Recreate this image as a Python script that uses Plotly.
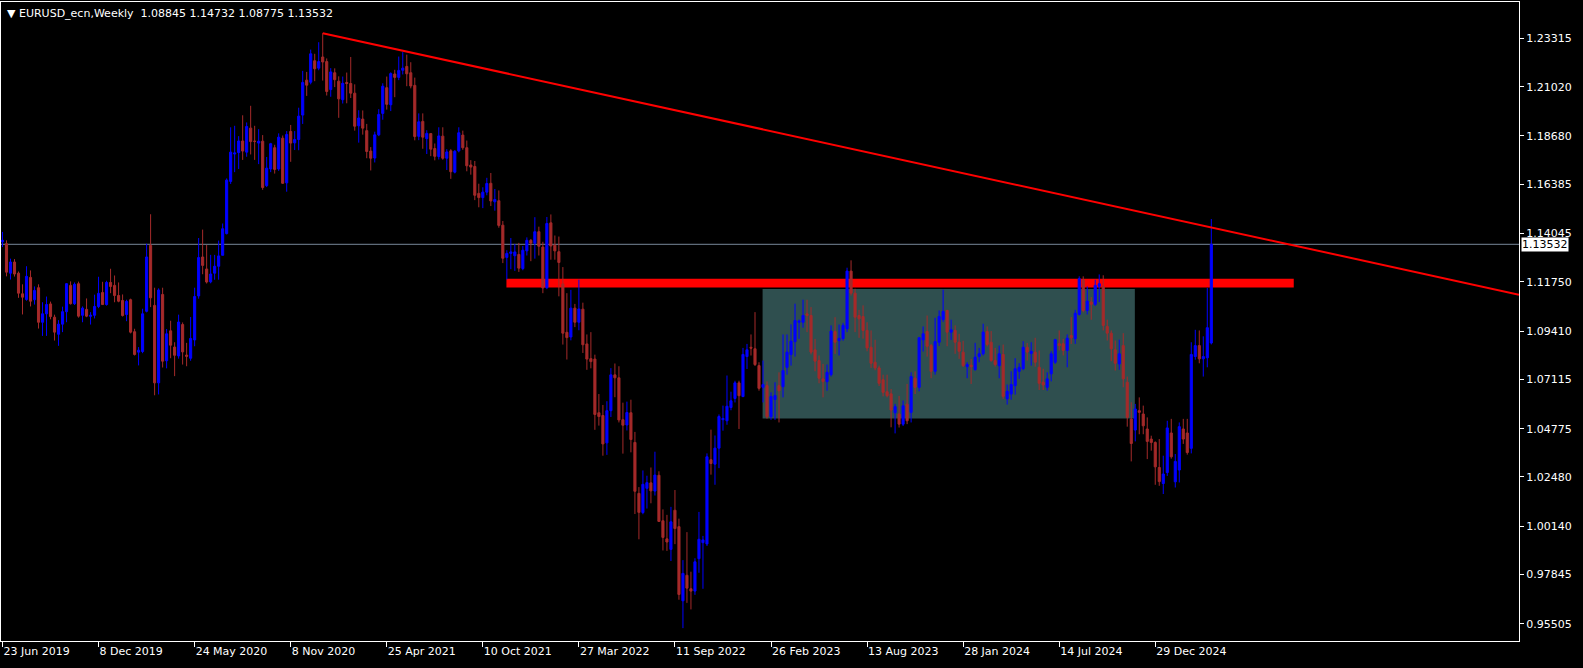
import plotly.graph_objects as go

# Weekly EURUSD candles, starting with the week of 23 Jun 2019 (one bar per week)
opens = [1.1365,1.1356,1.1216,1.1269,1.1216,1.1118,1.1091,1.1196,1.1090,1.1147,
         1.0983,1.1023,1.1070,1.1007,1.0926,1.0974,1.1033,1.1158,1.1071,1.1166,
         1.1016,1.1044,1.1011,1.1016,1.1058,1.1124,1.1067,1.1172,1.1158,1.1110,
         1.1086,1.1020,1.1090,1.0938,1.0841,1.0844,1.1035,1.1348,1.1063,1.0695,
         1.1115,1.0800,1.0942,1.0865,1.0823,1.0972,1.0827,1.0812,1.0899,1.1108,
         1.1293,1.1236,1.1175,1.1216,1.1249,1.1301,1.1404,1.1652,1.1782,1.1789,
         1.1844,1.1791,1.1905,1.1843,1.1834,1.1843,1.1632,1.1711,1.1812,1.1711,
         1.1857,1.1645,1.1889,1.1835,1.1851,1.1967,1.2133,1.2123,1.2225,1.2190,
         1.2243,1.2221,1.2088,1.2168,1.2128,1.2040,1.2122,1.2117,1.2071,1.1916,
         1.1948,1.1893,1.1796,1.1763,1.1873,1.1975,1.2097,1.2016,1.2162,1.2146,
         1.2180,1.2198,1.2168,1.2108,1.1866,1.1937,1.1855,1.1879,1.1808,1.1770,
         1.1867,1.1762,1.1797,1.1696,1.1797,1.1872,1.1812,1.1730,1.1723,1.1595,
         1.1575,1.1601,1.1643,1.1555,1.1560,1.1444,1.1291,1.1310,1.1299,1.1305,
         1.1238,1.1322,1.1372,1.1358,1.1413,1.1340,1.1147,1.1455,1.1349,1.1318,
         1.1165,1.0935,1.0913,1.1050,1.0983,1.1045,1.0880,1.0810,1.0808,1.0553,
         1.0540,1.0410,1.0563,1.0733,1.0719,1.0520,1.0495,1.0553,1.0412,1.0170,
         1.0079,1.0194,1.0220,1.0181,1.0256,1.0040,0.9954,0.9904,1.0090,1.0012,
         0.9660,0.9781,0.9717,0.9706,0.9860,0.9936,0.9930,1.0330,1.0309,1.0385,
         1.0520,1.0515,1.0578,1.0621,1.0695,1.0630,1.0820,1.0864,1.0857,1.0777,
         1.0674,1.0682,1.0534,1.0616,1.0682,1.0677,1.0769,1.0830,1.0891,1.0983,
         1.0983,1.1023,1.1015,1.0852,1.0801,1.0714,1.0701,1.0734,1.0939,1.0896,
         1.0905,1.0952,1.1226,1.1121,1.1015,1.1010,1.0944,1.0864,1.0793,1.0766,
         1.0710,1.0653,1.0643,1.0553,1.0547,1.0499,1.0594,1.0555,1.0717,1.0674,
         1.0899,1.0939,1.0872,1.0750,1.0888,1.0996,1.1039,1.0936,1.0944,1.0888,
         1.0841,1.0772,1.0779,1.0758,1.0820,1.0833,1.0939,1.0888,1.0801,1.0777,
         1.0830,1.0619,1.0642,1.0682,1.0750,1.0762,1.0864,1.0835,1.0841,1.0769,
         1.0698,1.0674,1.0738,1.0793,1.0881,1.0881,1.0849,1.0920,1.0904,1.1020,
         1.1185,1.1039,1.1079,1.1068,1.1153,1.1153,1.0963,1.0931,1.0852,1.0785,
         1.0872,1.0698,1.0523,1.0471,1.0563,1.0547,1.0476,1.0428,1.0412,1.0293,
         1.0217,1.0269,1.0457,1.0225,1.0281,1.0476,1.0457,1.0384,1.0820,1.0872,
         1.0809,1.0814,1.08845]
highs = [1.1412,1.1372,1.1285,1.1283,1.1224,1.1163,1.1249,1.1229,1.1153,1.1163,
         1.1078,1.1105,1.1081,1.1019,1.0993,1.1057,1.1169,1.1177,1.1172,1.1176,
         1.1058,1.1096,1.1031,1.1114,1.1199,1.1175,1.1180,1.1237,1.1205,1.1172,
         1.1115,1.1090,1.1095,1.0952,1.0865,1.1047,1.1356,1.1496,1.1147,1.1144,
         1.1147,1.0951,1.0990,1.0888,1.1019,1.0982,1.0885,1.1008,1.1147,1.1383,
         1.1423,1.1350,1.1303,1.1303,1.1371,1.1452,1.1666,1.1909,1.1916,1.1867,
         1.1966,1.1932,1.2011,1.1916,1.1900,1.1872,1.1768,1.1835,1.1826,1.1880,
         1.1870,1.1891,1.1920,1.1891,1.2002,1.2177,1.2172,1.2278,1.2258,1.2313,
         1.2356,1.2236,1.2190,1.2189,1.2151,1.2150,1.2169,1.2243,1.2113,1.1990,
         1.1989,1.1925,1.1815,1.1888,1.1995,1.2118,1.2150,1.2170,1.2182,1.2245,
         1.2266,1.2254,1.2218,1.2145,1.1975,1.1975,1.1895,1.1880,1.1832,1.1909,
         1.1909,1.1805,1.1805,1.1801,1.1909,1.1893,1.1846,1.1753,1.1749,1.1641,
         1.1624,1.1669,1.1692,1.1616,1.1609,1.1464,1.1325,1.1383,1.1355,1.1360,
         1.1345,1.1386,1.1378,1.1482,1.1437,1.1365,1.1483,1.1495,1.1395,1.1390,
         1.1245,1.1121,1.1137,1.1070,1.1185,1.1076,1.0925,1.0936,1.0829,1.0642,
         1.0590,1.0608,1.0765,1.0787,1.0774,1.0601,1.0606,1.0615,1.0462,1.0200,
         1.0279,1.0254,1.0293,1.0368,1.0275,1.0094,1.0068,1.0106,1.0186,1.0050,
         0.9853,0.9986,0.9798,0.9862,1.0082,0.9968,1.0360,1.0473,1.0445,1.0545,
         1.0587,1.0730,1.0653,1.0705,1.0705,1.0861,1.0880,1.0925,1.1031,1.0793,
         1.0801,1.0702,1.0650,1.0698,1.0745,1.0925,1.0925,1.0973,1.1071,1.0996,
         1.1090,1.1090,1.1055,1.0904,1.0825,1.0785,1.0782,1.0968,1.1007,1.0972,
         1.0980,1.1242,1.1277,1.1142,1.1042,1.1063,1.0983,1.0944,1.0900,1.0777,
         1.0734,1.0734,1.0666,1.0595,1.0633,1.0611,1.0690,1.0745,1.0750,1.0913,
         1.0963,1.1015,1.0880,1.1004,1.1039,1.1138,1.1042,1.0995,1.0968,1.0928,
         1.0895,1.0793,1.0809,1.0885,1.0861,1.0976,1.0963,1.0941,1.0861,1.0872,
         1.0877,1.0687,1.0750,1.0812,1.0788,1.0893,1.0884,1.0888,1.0909,1.0849,
         1.0762,1.0745,1.0845,1.0904,1.0944,1.0904,1.0925,1.1007,1.1042,1.1201,
         1.1201,1.1153,1.1102,1.1185,1.1210,1.1206,1.0995,1.0944,1.0896,1.0900,
         1.0931,1.0725,1.0603,1.0595,1.0626,1.0587,1.0531,1.0444,1.0417,1.0428,
         1.0349,1.0515,1.0524,1.0357,1.0507,1.0524,1.0524,1.0888,1.0947,1.0944,
         1.0916,1.1146,1.14732]
lows = [1.1340,1.1201,1.1186,1.1200,1.1099,1.1020,1.1085,1.1058,1.1067,1.0953,
        1.0918,1.0918,1.0997,1.0896,1.0871,1.0936,1.0983,1.1067,1.1065,1.1005,
        1.0983,1.1007,1.0972,1.1001,1.1050,1.1065,1.1062,1.1121,1.1078,1.1078,
        1.1010,1.0988,1.0930,1.0825,1.0778,1.0836,1.1030,1.1055,1.0636,1.0640,
        1.0768,1.0764,1.0812,1.0727,1.0810,1.0782,1.0774,1.0800,1.0869,1.1095,
        1.1211,1.1167,1.1168,1.1185,1.1185,1.1300,1.1400,1.1640,1.1696,1.1711,
        1.1754,1.1769,1.1780,1.1754,1.1734,1.1612,1.1625,1.1696,1.1689,1.1702,
        1.1640,1.1603,1.1745,1.1801,1.1800,1.1925,1.2058,1.2113,1.2128,1.2180,
        1.2131,1.2060,1.2054,1.2100,1.1954,1.2022,1.2023,1.2048,1.1893,1.1836,
        1.1874,1.1762,1.1704,1.1742,1.1867,1.1945,1.1993,1.1986,1.2052,1.2133,
        1.2160,1.2104,1.2094,1.1847,1.1848,1.1807,1.1782,1.1772,1.1752,1.1756,
        1.1755,1.1706,1.1664,1.1690,1.1790,1.1802,1.1700,1.1684,1.1563,1.1529,
        1.1525,1.1586,1.1535,1.1513,1.1432,1.1264,1.1186,1.1235,1.1227,1.1222,
        1.1230,1.1300,1.1273,1.1285,1.1300,1.1121,1.1140,1.1280,1.1280,1.1106,
        1.0877,1.0806,1.0897,1.0960,1.0945,1.0837,1.0757,1.0764,1.0472,1.0492,
        1.0349,1.0353,1.0533,1.0627,1.0507,1.0359,1.0469,1.0365,1.0072,0.9952,
        1.0071,1.0098,1.0123,1.0160,1.0034,0.9899,0.9897,0.9849,0.9929,0.9665,
        0.9530,0.9650,0.9619,0.9688,0.9793,0.9717,0.9920,1.0259,1.0211,1.0290,
        1.0468,1.0496,1.0565,1.0602,1.0476,1.0627,1.0761,1.0825,1.0775,1.0658,
        1.0602,1.0525,1.0519,1.0519,1.0507,1.0626,1.0734,1.0777,1.0820,1.0904,
        1.0957,1.0936,1.0830,1.0750,1.0693,1.0626,1.0658,1.0725,1.0833,1.0825,
        1.0895,1.0936,1.1110,1.0936,1.0909,1.0905,1.0845,1.0766,1.0755,1.0680,
        1.0631,1.0626,1.0484,1.0455,1.0483,1.0490,1.0499,1.0507,1.0642,1.0655,
        1.0844,1.0820,1.0717,1.0734,1.0870,1.0985,1.0869,1.0899,1.0833,1.0809,
        1.0770,1.0717,1.0690,1.0753,1.0793,1.0825,1.0868,1.0795,1.0772,1.0717,
        1.0619,1.0592,1.0615,1.0639,1.0714,1.0755,1.0801,1.0777,1.0772,1.0661,
        1.0661,1.0658,1.0702,1.0785,1.0849,1.0825,1.0769,1.0880,1.0880,1.1015,
        1.1030,1.1020,1.0995,1.1060,1.1079,1.0944,1.0896,1.0798,1.0753,1.0757,
        1.0674,1.0487,1.0322,1.0417,1.0451,1.0451,1.0333,1.0373,1.0211,1.0206,
        1.0167,1.0253,1.0335,1.0198,1.0222,1.0405,1.0354,1.0360,1.0805,1.0788,
        1.0725,1.0769,1.08775]
closes = [1.1372,1.1221,1.1269,1.1212,1.1121,1.1102,1.1201,1.1083,1.1134,1.0983,
          1.1023,1.1067,1.1010,1.0936,1.0974,1.1033,1.1166,1.1071,1.1163,1.1012,
          1.1050,1.1012,1.1016,1.1058,1.1120,1.1067,1.1172,1.1153,1.1110,1.1083,
          1.1015,1.1082,1.0936,1.0830,1.0850,1.1023,1.1293,1.1099,1.0695,1.1136,
          1.0798,1.0928,1.0874,1.0826,1.0984,1.0842,1.0821,1.0906,1.1105,1.1290,
          1.1253,1.1174,1.1212,1.1249,1.1298,1.1427,1.1658,1.1791,1.1787,1.1844,
          1.1796,1.1913,1.1841,1.1842,1.1843,1.1623,1.1715,1.1831,1.1709,1.1862,
          1.1643,1.1875,1.1834,1.1851,1.1962,1.2122,1.2109,1.2258,1.2187,1.2221,
          1.2219,1.2079,1.2172,1.2135,1.2044,1.2118,1.2117,1.2071,1.1914,1.1953,
          1.1905,1.1794,1.1762,1.1873,1.1970,1.2104,1.2018,1.2164,1.2146,1.2179,
          1.2190,1.2163,1.2105,1.1865,1.1935,1.1862,1.1880,1.1805,1.1771,1.1868,
          1.1762,1.1792,1.1698,1.1795,1.1883,1.1812,1.1726,1.1720,1.1586,1.1575,
          1.1601,1.1642,1.1559,1.1566,1.1443,1.1287,1.1310,1.1317,1.1317,1.1240,
          1.1325,1.1372,1.1359,1.1413,1.1344,1.1146,1.1452,1.1345,1.1322,1.1267,
          1.0931,1.0910,1.1050,1.0983,1.1046,1.0876,1.0808,1.0796,1.0545,1.0535,
          1.0405,1.0563,1.0733,1.0719,1.0519,1.0494,1.0554,1.0426,1.0180,1.0080,
          1.0213,1.0221,1.0182,1.0257,1.0037,0.9961,0.9939,1.0035,1.0003,0.9690,
          0.9790,0.9720,0.9706,0.9845,0.9952,0.9949,1.0344,1.0312,1.0385,1.0535,
          1.0526,1.0584,1.0610,1.0695,1.0634,1.0830,1.0852,1.0860,1.0782,1.0669,
          1.0687,1.0534,1.0630,1.0635,1.0658,1.0753,1.0841,1.0893,1.0991,1.0988,
          1.1015,1.1015,1.0841,1.0798,1.0717,1.0701,1.0745,1.0941,1.0888,1.0906,
          1.0968,1.1226,1.1121,1.1007,1.0999,1.0944,1.0861,1.0788,1.0766,1.0693,
          1.0650,1.0634,1.0566,1.0582,1.0499,1.0586,1.0515,1.0725,1.0674,1.0909,
          1.0928,1.0869,1.0750,1.0891,1.1010,1.1034,1.0936,1.0947,1.0888,1.0845,
          1.0777,1.0782,1.0772,1.0817,1.0833,1.0936,1.0877,1.0801,1.0782,1.0833,
          1.0631,1.0655,1.0687,1.0762,1.0769,1.0864,1.0841,1.0845,1.0793,1.0693,
          1.0685,1.0714,1.0833,1.0900,1.0872,1.0849,1.0907,1.0909,1.1026,1.1190,
          1.1039,1.1083,1.1068,1.1158,1.1166,1.0968,1.0931,1.0857,1.0788,1.0833,
          1.0714,1.0531,1.0407,1.0571,1.0555,1.0491,1.0417,1.0412,1.0296,1.0226,
          1.0262,1.0481,1.0344,1.0322,1.0487,1.0428,1.0364,1.0830,1.0872,1.0809,
          1.0820,1.0957,1.13532]

# Date axis labels, one every 24 weekly bars starting at bar 0
date_labels = ["23 Jun 2019", "8 Dec 2019", "24 May 2020", "8 Nov 2020", "25 Apr 2021",
               "10 Oct 2021", "27 Mar 2022", "11 Sep 2022", "26 Feb 2023", "13 Aug 2023",
               "28 Jan 2024", "14 Jul 2024", "29 Dec 2024"]
date_label_bars = [0, 24, 48, 72, 96, 120, 144, 168, 192, 216, 240, 264, 288]

price_ticks = [1.23315, 1.21020, 1.18680, 1.16385, 1.14045, 1.11750, 1.09410,
               1.07115, 1.04775, 1.02480, 1.00140, 0.97845, 0.95505]

# Drawn objects (price levels / bar positions)
trend_start = (80, 1.2356)
trend_end = (378.875, 1.1114)
resistance = (125.9, 322.6, 1.11484, 1.11897)   # x0, x1, y0, y1
range_box = (189.9, 282.9, 1.05261, 1.11413)
last_price = 1.13532
title_text = "\u25BC EURUSD_ecn,Weekly\u00a0\u00a01.08845 1.14732 1.08775 1.13532"

bars = list(range(len(closes)))

fig = go.Figure()
fig.add_trace(go.Candlestick(
    x=bars, open=opens, high=highs, low=lows, close=closes,
    increasing=dict(line=dict(color="#0000FF", width=1), fillcolor="#0000FF"),
    decreasing=dict(line=dict(color="#A52A2A", width=1), fillcolor="#A52A2A"),
    whiskerwidth=0, hoverinfo="skip", showlegend=False,
))

shapes = [
    dict(type="rect", xref="x", yref="y", x0=range_box[0], x1=range_box[1],
         y0=range_box[2], y1=range_box[3], fillcolor="#2F4F4F", line=dict(width=0), layer="below"),
    dict(type="rect", xref="x", yref="y", x0=resistance[0], x1=resistance[1],
         y0=resistance[2], y1=resistance[3], fillcolor="#FF0000", line=dict(width=0), layer="below"),
    dict(type="line", xref="paper", yref="y", x0=0, x1=1, y0=last_price, y1=last_price,
         line=dict(color="#778899", width=1), layer="below"),
    dict(type="line", xref="x", yref="y", x0=trend_start[0], y0=trend_start[1],
         x1=trend_end[0], y1=trend_end[1], line=dict(color="#FF0000", width=2), layer="above"),
]

font = "DejaVu Sans"
annotations = [
    dict(xref="paper", yref="paper", x=0, y=1, xanchor="left", yanchor="top",
         xshift=4, yshift=-3, text=title_text, showarrow=False,
         font=dict(family=font, size=11, color="#FFFFFF")),
    dict(xref="paper", yref="y", x=1, y=last_price, xanchor="left", yanchor="middle",
         xshift=2, text="1.13532", showarrow=False, bgcolor="#FFFFFF",
         borderpad=0, font=dict(family=font, size=11, color="#000000")),
]

fig.update_layout(
    width=1583, height=668,
    margin=dict(l=1, r=64, t=2, b=27),
    paper_bgcolor="#000000", plot_bgcolor="#000000",
    boxgap=0.25,
    shapes=shapes, annotations=annotations,
    font=dict(family=font, size=11, color="#FFFFFF"),
    xaxis=dict(
        range=[-0.375, 378.875], rangeslider=dict(visible=False),
        tickmode="array", tickvals=date_label_bars, ticktext=date_labels,
        ticks="outside", ticklen=5, tickcolor="#FFFFFF",
        ticklabelposition="outside right",
        showgrid=False, zeroline=False, showline=True, linecolor="#FFFFFF",
        linewidth=1, mirror=True, tickfont=dict(family=font, size=11, color="#FFFFFF"),
    ),
    yaxis=dict(
        side="right", range=[0.94689, 1.25041],
        tickmode="array", tickvals=price_ticks, ticktext=[f"{v:.5f}" for v in price_ticks],
        ticks="outside", ticklen=4, tickcolor="#FFFFFF",
        showgrid=False, zeroline=False, showline=True, linecolor="#FFFFFF",
        linewidth=1, mirror=True, tickfont=dict(family=font, size=11, color="#FFFFFF"),
    ),
)

fig.write_html("out.html", config={"displayModeBar": False},
               post_script="document.body.style.margin='0';")
